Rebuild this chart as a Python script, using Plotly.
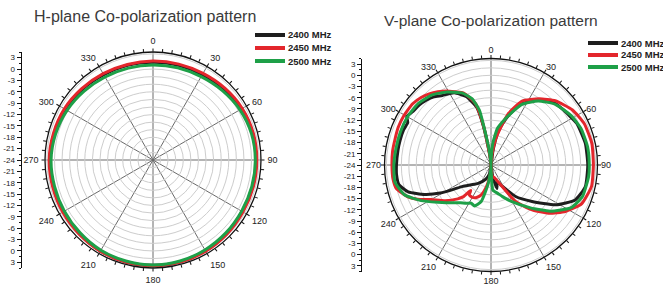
import plotly.graph_objects as go

# ---------------- data ----------------
SERIES_NAMES = ["2400 MHz", "2450 MHz", "2500 MHz"]
SERIES_COLORS = ["#1e1e1e", "#e3262c", "#1ea048"]

ANGLE_TICKS = [0, 30, 60, 90, 120, 150, 180, 210, 240, 270, 300, 330]
RADIAL_LABELS = [3, 0, -3, -6, -9, -12, -15, -18, -21, -24]  # outer -> centre
R_MIN, R_MAX = -24, 4.5

# H-plane (angle in degrees, gain in dB)
H_THETA = [0, 15, 30, 45, 60, 75, 90, 105, 120, 135, 150, 165, 180,
           195, 210, 225, 240, 255, 270, 285, 300, 315, 330, 345, 360]
H_2400 = [1.8, 1.9, 2.0, 2.4, 3.0, 3.2, 3.2, 3.2, 3.2, 3.4, 3.6, 3.8, 3.8,
          3.8, 3.7, 3.4, 3.2, 3.2, 3.2, 3.0, 2.8, 2.4, 2.0, 1.9, 1.8]
H_2450 = [2.1, 2.2, 2.4, 2.8, 3.2, 3.4, 3.4, 3.4, 3.4, 3.6, 3.8, 3.9, 3.9,
          3.9, 3.8, 3.6, 3.5, 3.4, 3.4, 3.2, 3.0, 2.6, 2.3, 2.1, 2.1]
H_2500 = [1.1, 1.2, 1.4, 1.9, 2.5, 2.9, 3.0, 3.0, 3.0, 3.2, 3.4, 3.6, 3.7,
          3.6, 3.5, 3.2, 3.0, 2.9, 2.9, 2.6, 2.2, 1.7, 1.3, 1.1, 1.1]

# V-plane
V_2400_THETA = [0, 8, 12, 15, 20, 27, 36, 45, 52, 57, 64, 77, 90, 103, 112.5,
                121.7, 131.6, 142, 152, 160, 166, 172, 180, 190, 200, 215, 225,
                233, 237, 241, 246, 252, 258, 264, 270, 279, 285, 292, 297, 300,
                304, 310, 315, 320, 325, 333, 340, 346, 349, 352, 356, 360]
V_2400 = [-24, -20, -15, -13, -9.6, -5.5, -2.6, -0.3, 0.3, 0.7, 1.5, 1.9, 1.9,
          1.9, 0.4, -3.7, -9.3, -13.3, -17.5, -19.2, -17.5, -21, -24, -21.5,
          -20, -18, -16.5, -14.5, -12, -8.5, -4.6, -0.7, 1.2, 1.4, 1.3, 1.2,
          1.2, 1.2, 1.0, 2.0, 1.4, 1.0, 0.5, -0.2, -1.3, -2.3, -4.5, -8,
          -13.5, -20.5, -23, -24]

V_2450_THETA = [0, 6, 10, 14, 19, 26, 36, 45, 56, 66, 78, 90, 102, 113, 122,
                130, 137.5, 146, 152.5, 165, 174, 180, 183, 187, 192, 198, 204,
                210, 216, 218.5, 221, 224.5, 232, 240, 245, 249, 256, 262, 270,
                278, 285, 292, 299, 308, 314, 319, 324, 329, 334, 339, 342, 346,
                349, 352, 356, 360]
V_2450 = [-24, -21, -17, -14, -9.3, -5, -2.1, 0.3, 2.3, 3.3, 3.6, 3.4, 3.5,
          2.4, -0.5, -3.9, -7.7, -12.2, -17.5, -20.5, -21, -24, -22, -20.4,
          -18, -15.6, -14.5, -14.0, -14.1, -15.3, -12.8, -11.3, -8.5, -5.5,
          -2.3, -0.2, 2.1, 2.5, 2.5, 2.6, 2.6, 2.8, 2.8, 2.6, 2.0, 1.2, 0.2,
          -0.9, -2.2, -3.3, -4.8, -7.2, -13, -20.5, -23, -24]

V_2500_THETA = [0, 2, 5, 10, 15, 19.8, 27, 36.4, 46.4, 58.4, 68.2, 79.4, 90,
                96.7, 108.8, 118, 127.9, 137.3, 151.4, 160, 166.7, 172, 176,
                178, 180, 182, 185, 189, 195, 202, 207.5, 213, 219, 224, 230,
                235, 243, 251, 260, 270, 280, 290, 300, 310, 320, 329, 338, 344,
                348, 350, 353, 356, 360]
V_2500 = [-24, -22, -18, -14, -12, -9.8, -5.8, -2.7, -0.4, 1.2, 2.0, 2.3, 2.3,
          2.3, 1.9, 0.3, -3.9, -8.4, -13, -15, -16.2, -16.8, -17.3, -22, -24,
          -23, -22, -18.6, -13.9, -12.2, -12.5, -11.8, -11, -10, -8.3, -6.6,
          -3.0, 0.5, 2.1, 2.0, 1.8, 1.8, 1.8, 1.5, 0.5, -1.2, -3.2, -5.5, -9,
          -15, -20, -23, -24]

TITLES = ["H-plane Co-polarization pattern", "V-plane Co-polarization pattern"]

# ---------------- layout geometry (pixels) ----------------
W, H = 663, 285
FONT = "Liberation Sans, Arial, sans-serif"
CHARTS = [
    dict(cx=153, cy=160, R=108, axis_x=20.5, title_x=145, title_y=17, title_size=16,
         leg_x=255, leg_y=[35, 48, 61], lab_pad=4),
    dict(cx=491, cy=165, R=106.5, axis_x=361, title_x=491, title_y=20, title_size=15.5,
         leg_x=588, leg_y=[43, 55, 67], lab_pad=1),
]


def px(x):
    return x / W


def py(y):
    return 1 - y / H


fig = go.Figure()

h_data = [(H_THETA, H_2400), (H_THETA, H_2450), (H_THETA, H_2500)]
v_data = [(V_2400_THETA, V_2400), (V_2450_THETA, V_2450), (V_2500_THETA, V_2500)]

for (th, r), name, col in zip(h_data, SERIES_NAMES, SERIES_COLORS):
    fig.add_trace(go.Scatterpolar(r=r, theta=th, mode="lines", name=name, subplot="polar",
                                  line=dict(color=col, width=3, shape="spline", smoothing=0.8),
                                  showlegend=False, hoverinfo="skip"))
for (th, r), name, col in zip(v_data, SERIES_NAMES, SERIES_COLORS):
    fig.add_trace(go.Scatterpolar(r=r, theta=th, mode="lines", name=name, subplot="polar2",
                                  line=dict(color=col, width=3, shape="spline", smoothing=0.5),
                                  showlegend=False, hoverinfo="skip"))
# overlay subplots carrying the fine angular tick marks
for sp in ["polar3", "polar4"]:
    fig.add_trace(go.Scatterpolar(r=[None], theta=[None], subplot=sp, showlegend=False,
                                  hoverinfo="skip"))
# cartesian helpers for the vertical dB scales
fig.add_trace(go.Scatter(x=[None], y=[None], xaxis="x", yaxis="y", showlegend=False,
                         hoverinfo="skip"))
fig.add_trace(go.Scatter(x=[None], y=[None], xaxis="x", yaxis="y2", showlegend=False,
                         hoverinfo="skip"))

layout = dict(width=W, height=H, margin=dict(l=0, r=0, t=0, b=0), autosize=False,
              paper_bgcolor="white", plot_bgcolor="rgba(0,0,0,0)", showlegend=False,
              template="none", font=dict(family=FONT))

annotations = []
shapes = []
tickvals, ticktext = [], []
for v in RADIAL_LABELS:
    d = v - R_MIN
    tickvals.append(d)
    ticktext.append(str(v))
    if d != 0:
        tickvals.append(-d)
        ticktext.append(str(v))

for i, c in enumerate(CHARTS):
    dom_x = [px(c["cx"] - c["R"]), px(c["cx"] + c["R"])]
    dom_y = [py(c["cy"] + c["R"]), py(c["cy"] - c["R"])]
    main = "polar" if i == 0 else "polar2"
    over = "polar3" if i == 0 else "polar4"
    layout[main] = dict(
        domain=dict(x=dom_x, y=dom_y), bgcolor="white",
        angularaxis=dict(rotation=90, direction="clockwise", tickmode="array",
                         tickvals=ANGLE_TICKS, ticktext=[str(a) for a in ANGLE_TICKS],
                         showgrid=True, gridcolor="#6a6a6a", gridwidth=1,
                         showline=True, linecolor="#111111", linewidth=1.3,
                         ticks="outside", ticklen=c["lab_pad"], tickcolor="rgba(0,0,0,0)",
                         tickfont=dict(size=9, color="#222222", family=FONT)),
        radialaxis=dict(range=[R_MIN, R_MAX], tickmode="linear", tick0=R_MIN, dtick=2,
                        showgrid=True, gridcolor="#cdcdcd", gridwidth=1,
                        showticklabels=False, ticks="", showline=False),
    )
    layout[over] = dict(
        domain=dict(x=dom_x, y=dom_y), bgcolor="rgba(0,0,0,0)",
        angularaxis=dict(rotation=90, direction="clockwise", tickmode="linear", tick0=0,
                         dtick=5, ticks="outside", ticklen=3, tickcolor="#111111",
                         tickwidth=1, showticklabels=False, showgrid=False, showline=False),
        radialaxis=dict(range=[R_MIN, R_MAX], visible=False),
    )
    rng = (R_MAX - R_MIN)
    yname = "yaxis" if i == 0 else "yaxis2"
    layout[yname] = dict(
        domain=dom_y, range=[-rng, rng], anchor="free", position=px(c["axis_x"]),
        side="left", tickmode="array", tickvals=tickvals, ticktext=ticktext,
        ticks="outside", ticklen=4, tickcolor="#111111", showline=True,
        linecolor="#111111", linewidth=1, showgrid=False, zeroline=False,
        tickfont=dict(size=8, color="#222222", family=FONT), fixedrange=True,
        minor=dict(tickmode="linear", tick0=0, dtick=1.5, ticks="outside", ticklen=2,
                   tickcolor="#111111", showgrid=False),
    )
    annotations.append(dict(text=TITLES[i], x=px(c["title_x"]), y=py(c["title_y"]),
                            xref="paper", yref="paper", showarrow=False,
                            xanchor="center", yanchor="middle",
                            font=dict(size=c["title_size"], color="#3a3a3a", family=FONT)))
    for name, col, ly in zip(SERIES_NAMES, SERIES_COLORS, c["leg_y"]):
        shapes.append(dict(type="line", xref="paper", yref="paper",
                           x0=px(c["leg_x"]), x1=px(c["leg_x"] + 30), y0=py(ly), y1=py(ly),
                           line=dict(color=col, width=4)))
        annotations.append(dict(text="<b>%s</b>" % name, x=px(c["leg_x"] + 31), y=py(ly),
                                xref="paper", yref="paper", showarrow=False,
                                xanchor="left", yanchor="middle",
                                font=dict(size=9.5, color="#222222", family=FONT)))

layout["xaxis"] = dict(domain=[0, 0.005], visible=False, fixedrange=True)
layout["annotations"] = annotations
layout["shapes"] = shapes
fig.update_layout(**layout)
fig.write_html("out.html", config={"displayModeBar": False},
               post_script="document.body.style.margin='0';document.body.style.padding='0';")
